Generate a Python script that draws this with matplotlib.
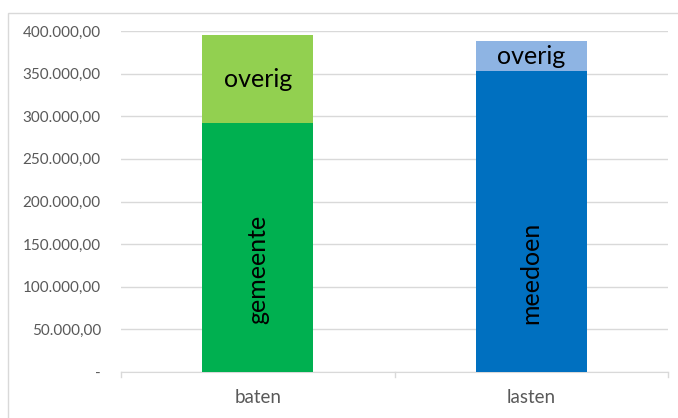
import matplotlib
matplotlib.use("Agg")
import matplotlib.pyplot as plt
from matplotlib.patches import Rectangle
from matplotlib.ticker import FuncFormatter, FixedLocator

categories = ["baten", "lasten"]
base_values = [292000, 353000]
top_values = [103000, 35000]
base_labels = ["gemeente", "meedoen"]
top_labels = ["overig", "overig"]
base_colors = ["#00b050", "#0070c0"]
top_colors = ["#92d050", "#8eb4e3"]
yticks = [0, 50000, 100000, 150000, 200000, 250000, 300000, 350000, 400000]

plt.rcParams['font.family'] = ['Lato', 'DejaVu Sans']

fig = plt.figure(figsize=(6.78, 4.18), dpi=100)
fig.patches.append(Rectangle((8/678, -0.1), 1.2, 1 - 13/418 + 0.1, transform=fig.transFigure,
                             fill=False, edgecolor="#d9d9d9", linewidth=1))
ax = fig.add_axes([121/678, 1 - 372/418, (668 - 121)/678, (372 - 31)/418])

x = list(range(len(categories)))
width = 0.405
ax.bar(x, base_values, width, color=base_colors, zorder=3)
ax.bar(x, top_values, width, bottom=base_values, color=top_colors, zorder=3)

ax.set_xlim(-0.5, 1.5)
ax.set_ylim(0, 400000)
ax.yaxis.set_major_locator(FixedLocator(yticks))

def fmt(v, pos):
    if v == 0:
        return "-"
    s = f"{int(v):,}".replace(",", ".")
    return s + ",00"

ax.yaxis.set_major_formatter(FuncFormatter(fmt))
ax.grid(axis="y", color="#d9d9d9", linewidth=1, zorder=0)
ax.set_axisbelow(True)
for s in ["top", "right", "left"]:
    ax.spines[s].set_visible(False)
ax.spines["bottom"].set_color("#d9d9d9")
ax.tick_params(axis="y", length=0, labelsize=11, labelcolor="#595959", pad=14.5)
ax.set_xticks(x)
ax.set_xticklabels(categories, fontsize=13.5, color="#595959")
ax.tick_params(axis="x", length=0, pad=12)
for b in [-0.5, 0.5, 1.5]:
    ax.plot([b, b], [0, -0.015], transform=ax.get_xaxis_transform(), color="#d9d9d9",
            linewidth=1, clip_on=False)

rot_y = [120000, 116000]
for i in x:
    ax.text(i, rot_y[i], base_labels[i], rotation=90, ha="center", va="center",
            fontsize=18, color="black", zorder=4)
    ax.text(i, base_values[i] + top_values[i] / 2, top_labels[i], ha="center", va="center",
            fontsize=18, color="black", zorder=4)

fig.savefig("out.png", dpi=100)
